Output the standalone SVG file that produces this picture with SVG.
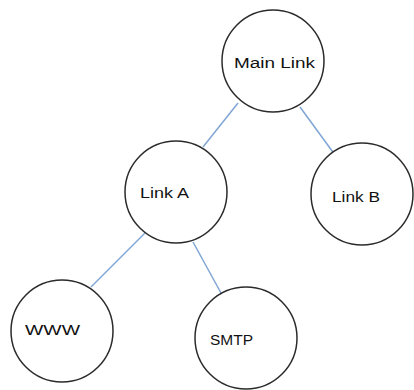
<svg xmlns="http://www.w3.org/2000/svg" width="414" height="390" viewBox="0 0 414 390">
  <style>
    .node circle { fill: #ffffff; stroke: #2b2b2b; stroke-width: 1.5; }
    .node text { font-family: "Liberation Sans", Arial, sans-serif; font-size: 15.5px; fill: #111111; }
    .edges line { stroke: #7fa6d4; stroke-width: 1.5; }
  </style>
  <rect width="414" height="390" fill="#ffffff"/>
  <g id="connectors" class="edges">
    <line x1="238" y1="103" x2="203" y2="147"/>
    <line x1="300" y1="107" x2="335" y2="155"/>
    <line x1="145" y1="233" x2="91" y2="287"/>
    <line x1="193" y1="242" x2="221" y2="293"/>
  </g>
  <g id="main-link" class="node">
    <circle cx="273" cy="61" r="51"/>
    <text x="234" y="68" textLength="81" lengthAdjust="spacingAndGlyphs">Main Link</text>
  </g>
  <g id="link-a" class="node">
    <circle cx="176" cy="192" r="51"/>
    <text x="140" y="198" textLength="49" lengthAdjust="spacingAndGlyphs">Link A</text>
  </g>
  <g id="link-b" class="node">
    <circle cx="362" cy="194" r="51"/>
    <text x="332" y="202" textLength="48" lengthAdjust="spacingAndGlyphs">Link B</text>
  </g>
  <g id="www" class="node">
    <circle cx="62" cy="331" r="51"/>
    <text x="25" y="335" style="font-size:14px" textLength="55" lengthAdjust="spacingAndGlyphs">WWW</text>
  </g>
  <g id="smtp" class="node">
    <circle cx="246" cy="338" r="51"/>
    <text x="210" y="345" style="font-size:14.5px" textLength="43" lengthAdjust="spacingAndGlyphs">SMTP</text>
  </g>
</svg>
